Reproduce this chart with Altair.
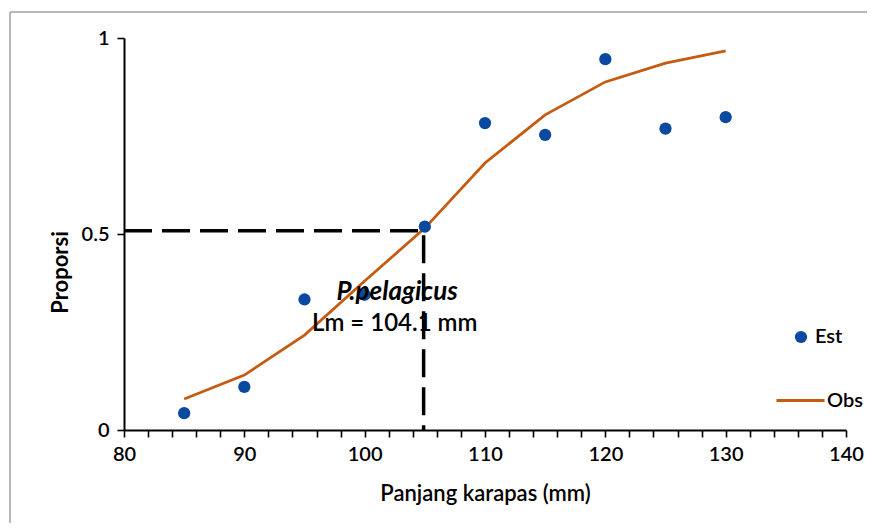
import altair as alt
import pandas as pd

# ---- data ----
length_mm = [85, 90, 95, 100, 105, 110, 115, 120, 125, 130]
est_prop = [0.043, 0.11, 0.333, 0.345, 0.519, 0.783, 0.753, 0.946, 0.769, 0.798]
obs_prop = [0.079, 0.140, 0.242, 0.38, 0.515, 0.681, 0.804, 0.888, 0.936, 0.967]

lm_x = [80, 104.9, 104.9]
lm_y = [0.508, 0.508, 0]

x_ticks = list(range(80, 141, 2))
y_ticks = [0, 0.5, 1]

annot_text = ["P.pelagicus", "Lm = 104.1 mm"]
annot_x = [102.7, 102.5]
annot_y = [0.352, 0.27]

FONT = "Lato"
BLUE = "#0A49A0"
ORANGE = "#C55A11"

df = pd.DataFrame({"length": length_mm, "est": est_prop, "obs": obs_prop,
                   "s_est": "Est", "s_obs": "Obs"})
df_lm = pd.DataFrame({"x": lm_x, "y": lm_y, "o": list(range(len(lm_x)))})
df_ann = pd.DataFrame({"t": annot_text, "x": annot_x, "y": annot_y, "i": [0, 1]})

xscale = alt.Scale(domain=[80, 140], nice=False, zero=False)
yscale = alt.Scale(domain=[0, 1], nice=False)

xaxis = alt.Axis(values=x_ticks, labelExpr="datum.value % 10 == 0 ? datum.label : ''",
                 title="Panjang karapas (mm)", grid=False, labelOverlap=False,
                 labelFlush=False, labelPadding=7, titleX=361, titleY=63,
                 titleBaseline="middle", titleAlign="center", titleFontWeight=600)
yaxis = alt.Axis(values=y_ticks, format=".1~f", title="Proporsi", grid=False,
                 labelFlush=False, labelOverlap=False, labelPadding=8,
                 titleX=-64, titleY=234, titleAngle=270, titleAlign="center",
                 titleBaseline="middle", titleFontWeight="bold")


def X(field):
    return alt.X(field, scale=xscale, axis=xaxis)


def Y(field):
    return alt.Y(field, scale=yscale, axis=yaxis)


frame_src = pd.DataFrame({"a": [0]})
frame_left = alt.Chart(frame_src).mark_rule(color="#b8b8b8", strokeWidth=2).encode(
    x=alt.value(-114), y=alt.value(-26), y2=alt.value(490))
frame_top = alt.Chart(frame_src).mark_rule(color="#b8b8b8", strokeWidth=2).encode(
    x=alt.value(-114), x2=alt.value(745), y=alt.value(-26))

dash = alt.Chart(df_lm).mark_line(color="black", strokeWidth=3.5,
                                  strokeDash=[28, 10], clip=False).encode(
    x=X("x:Q"), y=Y("y:Q"), order="o:Q")

line = alt.Chart(df).mark_line(strokeWidth=2.75).encode(
    x=X("length:Q"), y=Y("obs:Q"),
    stroke=alt.Stroke("s_obs:N", scale=alt.Scale(domain=["Obs"], range=[ORANGE]),
                      legend=alt.Legend(orient="none", legendX=651, legendY=337,
                                        title=None, symbolType="stroke",
                                        symbolSize=2304, symbolStrokeWidth=3,
                                        labelOffset=1, padding=0,
                                        labelFont=FONT, labelFontSize=20,
                                        labelFontWeight=600, labelColor="black")))

points = alt.Chart(df).mark_circle(size=150, opacity=1).encode(
    x=X("length:Q"), y=Y("est:Q"),
    color=alt.Color("s_est:N", scale=alt.Scale(domain=["Est"], range=[BLUE]),
                    legend=alt.Legend(orient="none", legendX=667, legendY=289,
                                      title=None, symbolType="circle",
                                      symbolSize=150, symbolOpacity=1,
                                      labelOffset=4, padding=0,
                                      labelFont=FONT, labelFontSize=20,
                                      labelFontWeight=600, labelColor="black")))

ann1 = alt.Chart(df_ann).transform_filter("datum.i == 0").mark_text(
    font=FONT, fontSize=26, fontWeight="bold", fontStyle="italic", color="black").encode(
    x=X("x:Q"), y=Y("y:Q"), text="t:N")
ann2 = alt.Chart(df_ann).transform_filter("datum.i == 1").mark_text(
    font=FONT, fontSize=24, fontWeight=600, color="black").encode(
    x=X("x:Q"), y=Y("y:Q"), text="t:N")

chart = alt.layer(frame_left, frame_top, dash, line, points, ann1, ann2).resolve_legend(
    color="independent", stroke="independent"
).properties(
    width=722, height=392,
    autosize=alt.AutoSizeParams(type="none"),
    padding={"left": 116, "top": 30, "right": 21, "bottom": 93},
    background="white",
).configure_view(stroke=None).configure_axis(
    domainColor="black", domainWidth=2, tickColor="black", tickWidth=1.6,
    tickSize=7, labelFont=FONT, labelFontSize=20, labelFontWeight=600,
    labelColor="black", titleFont=FONT, titleFontSize=22, titleColor="black",
)

chart.save("out.html", embed_options={"renderer": "svg", "actions": False})
